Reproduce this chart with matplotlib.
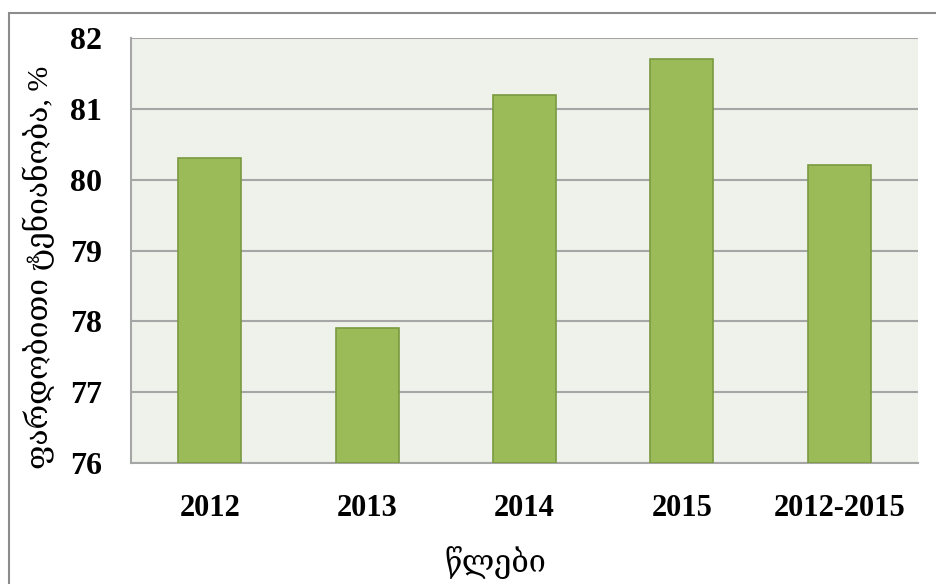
import matplotlib
matplotlib.use("Agg")
import matplotlib.pyplot as plt
from matplotlib.patches import Rectangle

categories = ["2012", "2013", "2014", "2015", "2012-2015"]
humidity = [80.3, 77.9, 81.2, 81.7, 80.2]
y_ticks = [76, 77, 78, 79, 80, 81, 82]

fonts = ["Liberation Serif", "DejaVu Serif", "DejaVu Sans"]
plt.rcParams["font.family"] = fonts

W, H = 936, 584
fig = plt.figure(figsize=(W / 100, H / 100), dpi=100)
fig.patch.set_facecolor("white")

# outer chart frame
fig.patches.append(Rectangle((9 / W, -0.05), 1.2, (H - 13) / H + 0.05,
                             transform=fig.transFigure, fill=False,
                             edgecolor="#8c8c8c", linewidth=1.5))

ax = fig.add_axes([131 / W, 1 - 463 / H, (918 - 131) / W, (463 - 38) / H])
ax.set_facecolor("#eff2ea")

x = range(len(categories))
ax.bar(x, [v - y_ticks[0] for v in humidity], bottom=y_ticks[0], width=0.4,
       color="#9bbb59", edgecolor="#7a9a40", linewidth=1.2, zorder=3)

ax.set_xlim(-0.5, len(categories) - 0.5)
ax.set_ylim(y_ticks[0], y_ticks[-1])
ax.set_yticks(y_ticks)
ax.set_yticklabels([str(t) for t in y_ticks], fontsize=23, fontweight="bold")
ax.set_xticks(list(x))
ax.set_xticklabels(categories, fontsize=22, fontweight="bold")
ax.tick_params(axis="both", length=0)
ax.tick_params(axis="x", pad=22)
ax.tick_params(axis="y", pad=21)

ax.grid(axis="y", color="#a6a6a6", linewidth=1.5, zorder=1)
for s in ["top", "right"]:
    ax.spines[s].set_visible(False)
for s in ["left", "bottom"]:
    ax.spines[s].set_color("#a6a6a6")
    ax.spines[s].set_linewidth(1.5)

fig.text(39 / W, 1 - 267 / H, "ფარდობითი ტენიანობა, %", rotation=90,
         ha="center", va="center", fontsize=21.5)
fig.text(495 / W, 1 - 563 / H, "წლები", ha="center", va="center", fontsize=22)

fig.savefig("out.png", dpi=100)
